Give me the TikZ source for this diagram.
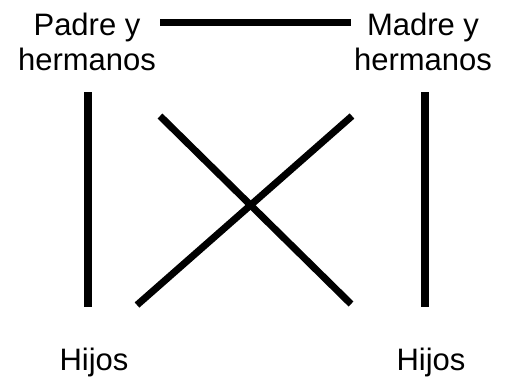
\documentclass[tikz,border=0pt]{standalone}
\usepackage{fontspec}
\setmainfont{Liberation Sans}
\usetikzlibrary{positioning}
\begin{document}
\begin{tikzpicture}[x=1pt,y=-1pt,
    lbl/.style={align=center,inner sep=0pt,font=\fontsize{31}{35}\selectfont},
    bar/.style={line width=7pt}]
    \useasboundingbox (0,0) rectangle (508,381);
    \node[lbl] (padre) at (87,42) {Padre y\\hermanos};
    \node[lbl] (madre) at (423,42) {Madre y\\hermanos};
    \node[lbl] (hijosA) at (94,362) {Hijos};
    \node[lbl] (hijosB) at (431,362) {Hijos};
    % pareja
    \coordinate (p) at (160,22.5);
    \coordinate (m) at (351,22.5);
    \draw[bar] (p) -- (m);
    % lineas de descendencia
    \coordinate (a1) at (87.5,92);
    \coordinate (a2) at (87.5,307);
    \coordinate (b1) at (424.5,92);
    \coordinate (b2) at (424.5,307);
    \draw[bar, line width=8pt] (a1) -- (a2);
    \draw[bar, line width=8pt] (b1) -- (b2);
    % cruce
    \coordinate (c1) at (160,116);
    \coordinate (c2) at (351,304);
    \coordinate (d1) at (352,116);
    \coordinate (d2) at (137,305);
    \draw[bar] (c1) -- (c2);
    \draw[bar] (d1) -- (d2);
\end{tikzpicture}
\end{document}
